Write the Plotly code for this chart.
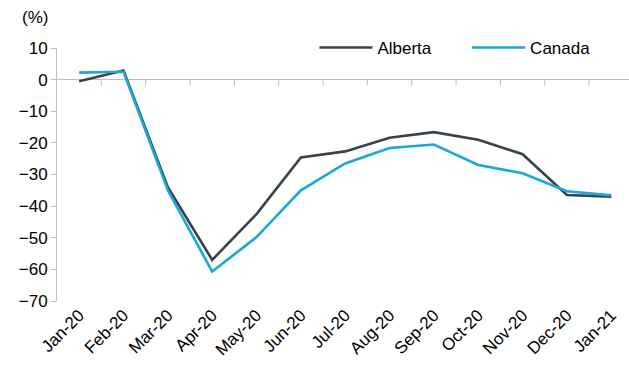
import plotly.graph_objects as go

months = ["Jan-20", "Feb-20", "Mar-20", "Apr-20", "May-20", "Jun-20", "Jul-20",
          "Aug-20", "Sep-20", "Oct-20", "Nov-20", "Dec-20", "Jan-21"]
alberta = [-0.5, 2.9, -34.0, -57.0, -42.5, -24.6, -22.7, -18.4, -16.6, -19.0, -23.6, -36.5, -37.0]
canada = [2.2, 2.5, -35.0, -60.7, -49.8, -35.0, -26.5, -21.6, -20.5, -27.0, -29.6, -35.3, -36.6]
y_ticks = [10, 0, -10, -20, -30, -40, -50, -60, -70]

FONT = "Liberation Sans, Arial, sans-serif"
GRID = "#BFBFBF"
TICK_DEPTH = 1.9  # length of the category ticks below the zero line, in y units

idx = list(range(len(months)))
boundaries = [i + 0.5 for i in idx[:-1]]
x_range = [-0.5, len(months) - 0.6]

tick_x, tick_y = [], []
for b in boundaries:
    tick_x += [b, b, None]
    tick_y += [0, -TICK_DEPTH, None]

fig = go.Figure()
# short downward tick marks on the zero line, between months
fig.add_trace(go.Scatter(x=tick_x, y=tick_y, mode="lines",
                         line=dict(color=GRID, width=1),
                         showlegend=False, hoverinfo="skip"))
fig.add_trace(go.Scatter(x=idx, y=alberta, name="Alberta", mode="lines",
                         line=dict(color="#37434B", width=2.6), legend="legend"))
fig.add_trace(go.Scatter(x=idx, y=canada, name="Canada", mode="lines",
                         line=dict(color="#19A9D3", width=2.6), legend="legend2"))

legend_common = dict(orientation="h", yanchor="middle", xanchor="left",
                     font=dict(size=17), bgcolor="rgba(0,0,0,0)", itemwidth=53)

fig.update_layout(
    width=629, height=367,
    margin=dict(l=57, r=0, t=48, b=66),
    paper_bgcolor="white", plot_bgcolor="white",
    font=dict(family=FONT, size=17, color="#000000"),
    showlegend=True,
    legend=dict(x=0.45, y=1.0, **legend_common),
    legend2=dict(x=0.717, y=1.0, **legend_common),
    xaxis=dict(range=x_range, tickvals=idx, ticktext=months, showline=False,
               ticks="", showgrid=False, tickangle=-45, tickfont=dict(size=17),
               zeroline=False),
    yaxis=dict(range=[-70, 10], tickvals=y_ticks, showline=True, linecolor=GRID,
               linewidth=1, ticks="outside", ticklen=5, tickcolor=GRID,
               showgrid=False, zeroline=True, zerolinecolor=GRID, zerolinewidth=1,
               tickfont=dict(size=17)),
    annotations=[dict(text="(%)", xref="paper", yref="paper", x=-0.065, y=1.12,
                      xanchor="left", yanchor="middle", showarrow=False,
                      font=dict(size=17))],
)

fig.write_html("out.html")
